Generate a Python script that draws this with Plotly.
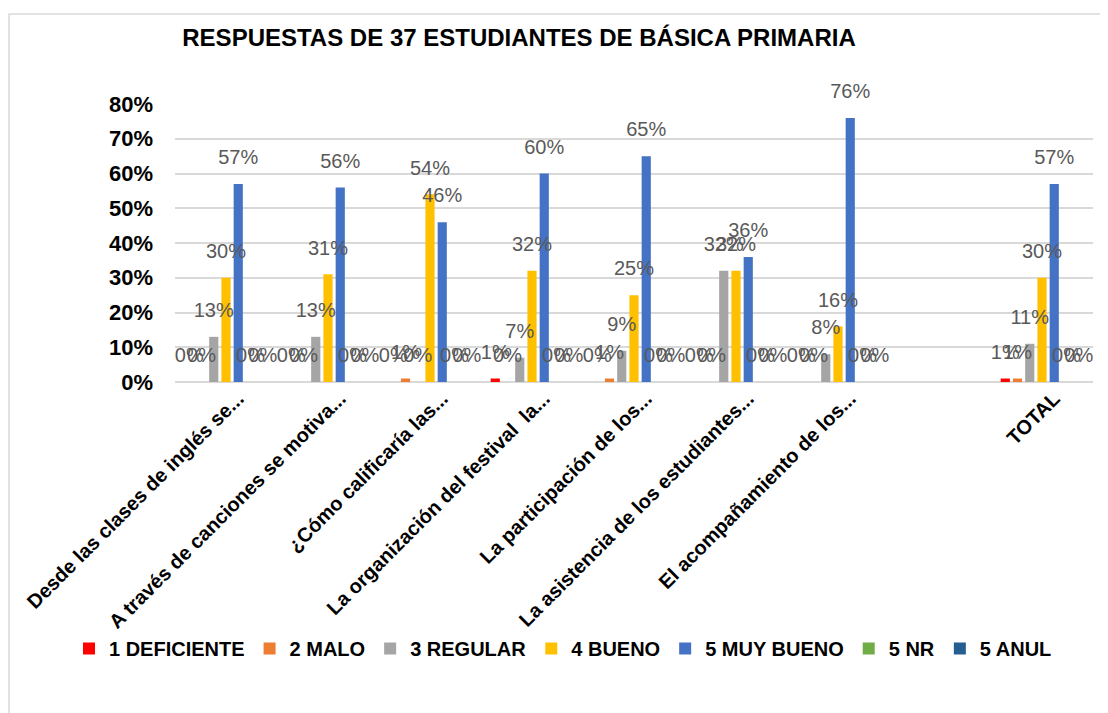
import plotly.graph_objects as go

categories = [
    "Desde las clases de inglés se...",
    "A través de canciones se motiva...",
    "¿Cómo calificaría las...",
    "La organización del festival  la...",
    "La participación de los...",
    "La asistencia de los estudiantes...",
    "El acompañamiento de los...",
    " ",
    "TOTAL",
]

series_names = ["1 DEFICIENTE", "2 MALO", "3 REGULAR", "4 BUENO", "5 MUY BUENO", "5 NR", "5 ANUL"]
deficiente = [0.00, 0.00, 0.00, 0.01, 0.00, 0.00, 0.00, None, 0.01]
malo       = [0.00, 0.00, 0.01, 0.00, 0.01, 0.00, 0.00, None, 0.01]
regular    = [0.13, 0.13, 0.00, 0.07, 0.09, 0.32, 0.08, None, 0.11]
bueno      = [0.30, 0.31, 0.54, 0.32, 0.25, 0.32, 0.16, None, 0.30]
muy_bueno  = [0.57, 0.56, 0.46, 0.60, 0.65, 0.36, 0.76, None, 0.57]
nr         = [0.00, 0.00, 0.00, 0.00, 0.00, 0.00, 0.00, None, 0.00]
anul       = [0.00, 0.00, 0.00, 0.00, 0.00, 0.00, 0.00, None, 0.00]
series_values = [deficiente, malo, regular, bueno, muy_bueno, nr, anul]
colors = ["#FF0000", "#ED7D31", "#A5A5A5", "#FFC000", "#4472C4", "#70AD47", "#255E91"]

FONT = "Liberation Sans, Arial"
W, H = 1100, 705  # page body has an 8px margin
L, R, T, B = 167, 15, 96, 331
PW, PH = W - L - R, H - T - B

fig = go.Figure()
for name, vals, col in zip(series_names, series_values, colors):
    fig.add_trace(go.Bar(x=categories, y=vals, name=name, marker_color=col,
                         marker_line_width=0, hoverinfo="skip"))
for name, vals in zip(series_names, series_values):
    fig.add_trace(go.Scatter(
        x=categories, y=vals, mode="markers+text", showlegend=False,
        marker=dict(size=22, color="rgba(0,0,0,0)"),
        text=[("" if v is None else f"{round(v*100)}%") for v in vals],
        textposition="top center", cliponaxis=False,
        textfont=dict(family=FONT, size=20, color="#595959"),
        hoverinfo="skip"))

fig.update_layout(
    width=W, height=H,
    paper_bgcolor="white", plot_bgcolor="white",
    margin=dict(l=L, r=R, t=T, b=B),
    barmode="group", bargap=0.16, bargroupgap=0.25,
    scattermode="group", scattergap=0.16,
    title=dict(text="RESPUESTAS DE 37 ESTUDIANTES DE BÁSICA PRIMARIA",
               x=511/W, xref="container", xanchor="center",
               y=1-30/H, yref="container", yanchor="middle",
               font=dict(family=FONT, size=24, color="black", weight="bold")),
    xaxis=dict(type="category", categoryorder="array", categoryarray=categories,
               tickangle=-45, showgrid=False, ticks="", showline=False, automargin=False,
               ticklabelshift=12,
               tickfont=dict(family=FONT, size=20, color="black", weight="bold")),
    yaxis=dict(range=[0, 0.8], dtick=0.1, tickformat=".0%", showgrid=True,
               gridcolor="#D9D9D9", gridwidth=1.5, zeroline=True, zerolinecolor="#D9D9D9",
               zerolinewidth=1.5, showline=False, ticks="", ticklabelstandoff=21,
               automargin=False,
               tickfont=dict(family=FONT, size=22, color="black", weight="bold")),
    legend=dict(orientation="h", xref="paper", x=(61-L)/PW, xanchor="left",
                yref="paper", y=-(621-(T+PH))/PH, yanchor="top",
                font=dict(family=FONT, size=20, color="black", weight="bold"),
                itemclick=False),
    shapes=[dict(type="rect", xref="paper", yref="paper",
                 x0=(1-L)/PW, x1=(1110-L)/PW, y0=-(720-(T+PH))/PH, y1=(T+PH-6)/PH,
                 line=dict(color="#D9D9D9", width=1.5), fillcolor="rgba(0,0,0,0)", layer="below")],
)

fig.write_html("out.html")
